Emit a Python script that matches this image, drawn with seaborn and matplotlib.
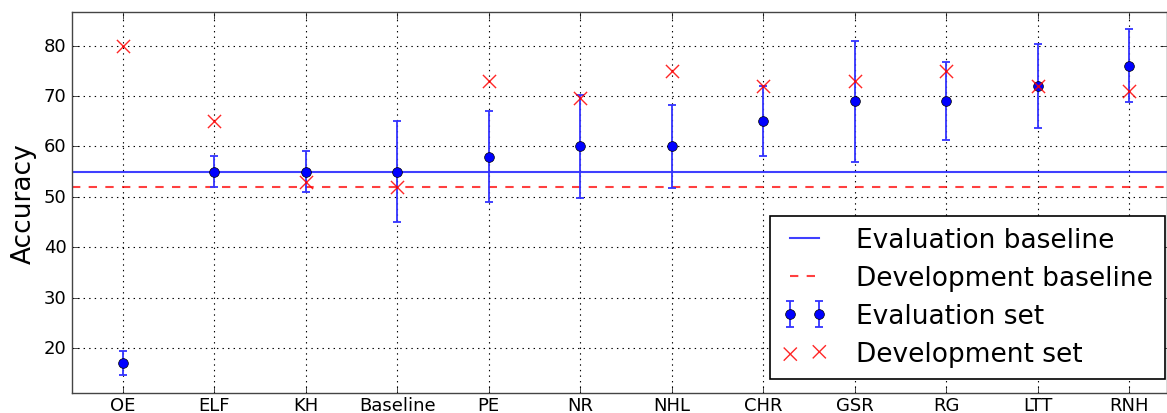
import numpy as np
import matplotlib
matplotlib.use("Agg")
import matplotlib.pyplot as plt
import seaborn as sns

# Feature-ablation results: accuracy per configuration
categories = ["OE", "ELF", "KH", "Baseline", "PE", "NR", "NHL", "CHR", "GSR", "RG", "LTT", "RNH"]
eval_acc = [17, 55, 55, 55, 58, 60, 60, 65, 69, 69, 72, 76]
eval_err = [2.4, 3.1, 4.0, 10.0, 9.0, 10.3, 8.2, 6.9, 12.0, 7.8, 8.4, 7.2]
dev_acc = [80, 65, 53, 52, 73, 69.7, 75, 72, 73, 75, 72, 71]
eval_baseline = 55
dev_baseline = 52

plt.style.use("classic")
plt.rcParams["font.family"] = ["DejaVu Sans"]

fig = plt.figure(figsize=(11.67, 4.14), dpi=100, facecolor="white")
ax = fig.add_axes([0.0617, 0.0483, 0.9380, 0.9195])
ax.set_facecolor("white")

x = np.arange(len(categories))

h_eb = ax.axhline(eval_baseline, color="b", lw=1.5, alpha=0.75, label="Evaluation baseline", zorder=2)
h_db = ax.axhline(dev_baseline, color="r", lw=1.5, ls="--", dashes=(6, 6), alpha=0.75,
                  label="Development baseline", zorder=2)

h_es = ax.errorbar(x, eval_acc, yerr=eval_err, fmt="o", color="b", ecolor=(0.2, 0.2, 1.0),
                   mec="k", mfc="b", ms=7, capsize=3, elinewidth=1.3, capthick=1.3,
                   label="Evaluation set", zorder=3)

sns.scatterplot(x=x, y=dev_acc, marker="x", s=90, color="r", linewidth=1.0,
                alpha=0.85, label="Development set", ax=ax, zorder=4)
h_ds = ax.collections[-1]

ax.set_xticks(x)
ax.set_xticklabels(categories, fontsize=13)
ax.set_xlim(-0.555, 11.41)
ax.set_ylim(11.1, 86.6)
ax.set_yticks([20, 30, 40, 50, 60, 70, 80])
ax.tick_params(axis="y", labelsize=13)
ax.tick_params(direction="in", top=True, right=True, length=5)
ax.tick_params(axis="x", pad=2)
ax.tick_params(axis="y", pad=4)
ax.set_ylabel("Accuracy", fontsize=19, labelpad=5)
ax.grid(True, color="k", ls=":", lw=0.8)
ax.set_axisbelow(True)

for s in ax.spines.values():
    s.set_color("#444444")

leg = ax.legend([h_eb, h_db, h_es, h_ds],
                ["Evaluation baseline", "Development baseline", "Evaluation set", "Development set"],
                loc="lower right", bbox_to_anchor=(0.9985, 0.037), fontsize=19,
                numpoints=2, scatterpoints=2, frameon=True, fancybox=False,
                borderaxespad=0.0, handlelength=1.7, handletextpad=1.1,
                labelspacing=0.45, borderpad=0.45)
leg.get_frame().set_edgecolor("k")
leg.get_frame().set_linewidth(1.2)

fig.savefig("out.png", dpi=100, facecolor="white")
